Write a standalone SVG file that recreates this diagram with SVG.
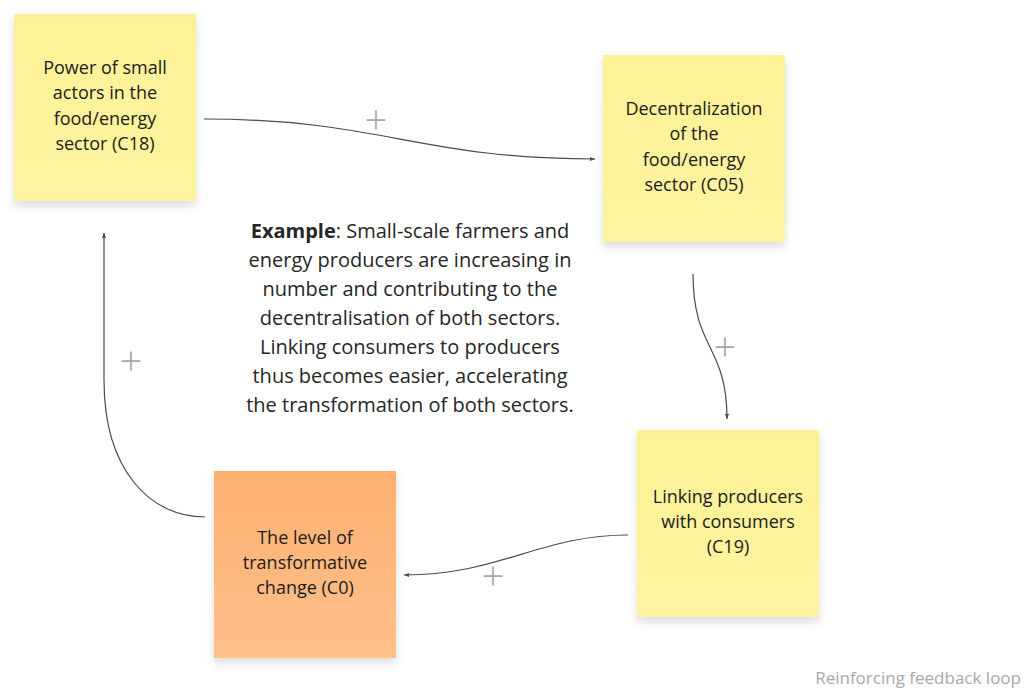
<svg xmlns="http://www.w3.org/2000/svg" width="1027" height="688" viewBox="0 0 1027 688">
<style>
.lbl{font-family:"Open Sans","Liberation Sans",sans-serif;font-size:18px;fill:#1c1c1c;text-anchor:middle}
.ex{font-family:"Open Sans","Liberation Sans",sans-serif;font-size:20px;fill:#262626;text-anchor:middle}
.plus{font-family:"Open Sans","Liberation Sans",sans-serif;font-size:40px;font-weight:300;fill:#a8a8a8;text-anchor:middle}
.conn{fill:none;stroke:#4a4a4a;stroke-width:1.2}
.cap{font-family:"Open Sans","Liberation Sans",sans-serif;font-size:17px;fill:#a8a8a8;text-anchor:end}
</style>
<defs>
<linearGradient id="yel" x1="0" y1="0" x2="0" y2="1"><stop offset="0" stop-color="#fbf195"/><stop offset="1" stop-color="#fdf4a1"/></linearGradient>
<linearGradient id="org" x1="0" y1="0" x2="0" y2="1"><stop offset="0" stop-color="#fdb070"/><stop offset="1" stop-color="#ffc08c"/></linearGradient>
<filter id="sh" x="-20%" y="-20%" width="140%" height="150%"><feDropShadow dx="0" dy="5" stdDeviation="4" flood-color="#000" flood-opacity="0.13"/></filter>
<marker id="arr" markerUnits="userSpaceOnUse" markerWidth="6" markerHeight="5" refX="5" refY="2.5" orient="auto"><path d="M0,0.5 L5,2.5 L0,4.5 z" fill="#4a4a4a"/></marker>
</defs>
<rect width="1027" height="688" fill="#ffffff"/>
<g id="connectors">
<path class="conn" d="M204,119 C380,119 420,159 595,159" marker-end="url(#arr)"/>
<path class="conn" d="M693,274 C693,350 727,345 727,419" marker-end="url(#arr)"/>
<path class="conn" d="M628,535 C540,535 500,575 404,575" marker-end="url(#arr)"/>
<path class="conn" d="M205,517 C150,517 104,470 104,380 L104,233" marker-end="url(#arr)"/>
<text class="plus" x="376" y="134">+</text>
<text class="plus" x="725" y="361">+</text>
<text class="plus" x="493" y="590">+</text>
<text class="plus" x="131" y="375">+</text>
</g>
<g id="C18">
<rect x="14" y="14" width="182" height="187" fill="url(#yel)" filter="url(#sh)"/>
<text class="lbl"><tspan x="105" y="73.5">Power of small</tspan><tspan x="105" y="99">actors in the</tspan><tspan x="105" y="124.5">food/energy</tspan><tspan x="105" y="150">sector (C18)</tspan></text>
</g>
<g id="C05">
<rect x="603" y="55" width="182" height="187" fill="url(#yel)" filter="url(#sh)"/>
<text class="lbl"><tspan x="694" y="114.5">Decentralization</tspan><tspan x="694" y="140">of the</tspan><tspan x="694" y="165.5">food/energy</tspan><tspan x="694" y="190.5">sector (C05)</tspan></text>
</g>
<g id="C19">
<rect x="637" y="430" width="182" height="187" fill="url(#yel)" filter="url(#sh)"/>
<text class="lbl"><tspan x="728" y="502.5">Linking producers</tspan><tspan x="728" y="527.5">with consumers</tspan><tspan x="728" y="552.5">(C19)</tspan></text>
</g>
<g id="C0">
<rect x="214" y="471" width="182" height="187" fill="url(#org)" filter="url(#sh)"/>
<text class="lbl"><tspan x="305" y="543.5">The level of</tspan><tspan x="305" y="568.5">transformative</tspan><tspan x="305" y="593.5">change (C0)</tspan></text>
</g>
<g id="example">
<text class="ex"><tspan x="410" y="238"><tspan font-weight="bold">Example</tspan>: Small-scale farmers and</tspan><tspan x="410" y="267">energy producers are increasing in</tspan><tspan x="410" y="296">number and contributing to the</tspan><tspan x="410" y="325">decentralisation of both sectors.</tspan><tspan x="410" y="354">Linking consumers to producers</tspan><tspan x="410" y="383">thus becomes easier, accelerating</tspan><tspan x="410" y="412">the transformation of both sectors.</tspan></text>
</g>
<text class="cap" x="1021" y="684">Reinforcing feedback loop</text>
</svg>
